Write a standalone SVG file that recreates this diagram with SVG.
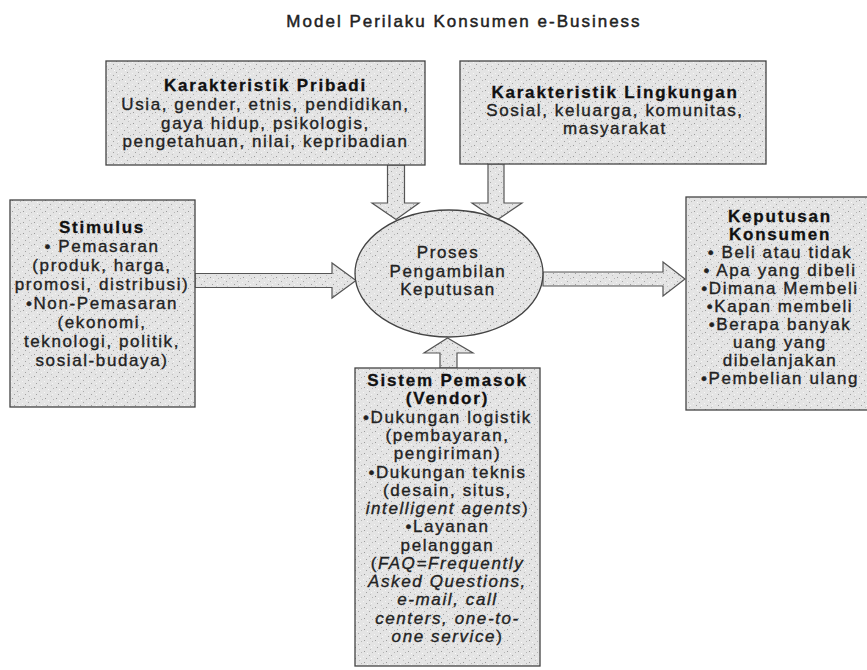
<svg xmlns="http://www.w3.org/2000/svg" width="867" height="670" viewBox="0 0 867 670">
<defs>
<pattern id="stip" width="11" height="11" patternUnits="userSpaceOnUse">
<rect width="11" height="11" fill="#e4e4e4"/>
<rect x="1" y="2" width="1" height="1" fill="#9a9a9a"/>
<rect x="6" y="6" width="1" height="1" fill="#a8a8a8"/>
<rect x="9" y="3" width="1" height="1" fill="#b5b5b5"/>
<rect x="3" y="9" width="1" height="1" fill="#a0a0a0"/>
<rect x="8" y="9" width="1" height="1" fill="#f8f8f8"/>
<rect x="4" y="4" width="1" height="1" fill="#fafafa"/>
<rect x="0" y="7" width="1" height="1" fill="#f5f5f5"/>
<rect x="7" y="0" width="1" height="1" fill="#c0c0c0"/>
</pattern>
<style>
.box{fill:url(#stip);stroke:#444;stroke-width:1.3}
.arr{fill:url(#stip);stroke:#555;stroke-width:1.2;stroke-linejoin:miter}
.t{font-family:"Liberation Sans",Arial,Helvetica,sans-serif;font-size:17px;letter-spacing:1.6px;fill:#222;stroke:#222;stroke-width:0.35;text-anchor:middle}
.h{font-weight:bold;letter-spacing:1.8px;fill:#111;stroke:#111;stroke-width:0.3}
.i{font-style:italic}
.title{font-family:"Liberation Sans",Arial,Helvetica,sans-serif;font-size:17px;letter-spacing:2px;fill:#222;stroke:#222;stroke-width:0.45;text-anchor:middle}
</style>
</defs>
<rect width="867" height="670" fill="#fff"/>
<text class="title" x="464" y="27">Model Perilaku Konsumen e-Business</text>

<g id="connectors">
<polygon class="arr" points="387.5,165 404.5,165 404.5,203 419,203 396,219.5 372,203 387.5,203"/>
<polygon class="arr" points="488,164 504,164 504,203 522,203 497,220 472,203 488,203"/>
<polygon class="arr" points="195,273.5 332,273.5 332,263 356,280.5 332,298 332,287.5 195,287.5"/>
<polygon class="arr" points="543,272 663,272 663,262 685,279 663,296 663,286 543,286"/>
<polygon class="arr" points="440,368 440,353 424,353 447.5,338 473,353 457,353 457,368"/>
</g>

<g id="karakteristik-pribadi">
<rect class="box" x="106" y="61" width="319" height="104"/>
<text class="t h" x="265.5" y="91">Karakteristik Pribadi</text>
<text class="t" x="265.5" y="110">Usia, gender, etnis, pendidikan,</text>
<text class="t" x="265.5" y="128.5">gaya hidup, psikologis,</text>
<text class="t" x="265.5" y="147">pengetahuan, nilai, kepribadian</text>
</g>

<g id="karakteristik-lingkungan">
<rect class="box" x="460" y="61" width="306" height="103"/>
<text class="t h" x="615" y="98">Karakteristik Lingkungan</text>
<text class="t" x="615" y="116">Sosial, keluarga, komunitas,</text>
<text class="t" x="615" y="134">masyarakat</text>
</g>

<g id="stimulus">
<rect class="box" x="10" y="200" width="185" height="207"/>
<text class="t h" x="102" y="233">Stimulus</text>
<text class="t" x="102" y="252">• Pemasaran</text>
<text class="t" x="102" y="271">(produk, harga,</text>
<text class="t" x="102" y="290">promosi, distribusi)</text>
<text class="t" x="102" y="309">•Non-Pemasaran</text>
<text class="t" x="102" y="328">(ekonomi,</text>
<text class="t" x="102" y="347">teknologi, politik,</text>
<text class="t" x="102" y="366">sosial-budaya)</text>
</g>

<g id="proses">
<ellipse class="box" cx="449" cy="273.5" rx="94" ry="63.5"/>
<text class="t" x="448" y="258">Proses</text>
<text class="t" x="448" y="277">Pengambilan</text>
<text class="t" x="448" y="295">Keputusan</text>
</g>

<g id="keputusan-konsumen">
<rect class="box" x="686" y="197" width="190" height="213"/>
<text class="t h" x="780" y="222">Keputusan</text>
<text class="t h" x="780" y="240">Konsumen</text>
<text class="t" x="780" y="258">• Beli atau tidak</text>
<text class="t" x="780" y="276">• Apa yang dibeli</text>
<text class="t" x="780" y="294">•Dimana Membeli</text>
<text class="t" x="780" y="312">•Kapan membeli</text>
<text class="t" x="780" y="330">•Berapa banyak</text>
<text class="t" x="780" y="348">uang yang</text>
<text class="t" x="780" y="366">dibelanjakan</text>
<text class="t" x="780" y="384">•Pembelian ulang</text>
</g>

<g id="sistem-pemasok">
<rect class="box" x="355" y="368" width="185" height="298"/>
<text class="t h" x="447.5" y="386">Sistem Pemasok</text>
<text class="t h" x="447.5" y="404">(Vendor)</text>
<text class="t" x="447.5" y="422.5">•Dukungan logistik</text>
<text class="t" x="447.5" y="441">(pembayaran,</text>
<text class="t" x="447.5" y="459">pengiriman)</text>
<text class="t" x="447.5" y="477.5">•Dukungan teknis</text>
<text class="t" x="447.5" y="496">(desain, situs,</text>
<text class="t" x="447.5" y="514"><tspan class="i">intelligent agents</tspan>)</text>
<text class="t" x="447.5" y="532">•Layanan</text>
<text class="t" x="447.5" y="550.5">pelanggan</text>
<text class="t" x="447.5" y="569">(<tspan class="i">FAQ=Frequently</tspan></text>
<text class="t i" x="447.5" y="587">Asked Questions,</text>
<text class="t i" x="447.5" y="605">e-mail, call</text>
<text class="t i" x="447.5" y="623.5">centers, one-to-</text>
<text class="t" x="447.5" y="642"><tspan class="i">one service</tspan>)</text>
</g>
</svg>
